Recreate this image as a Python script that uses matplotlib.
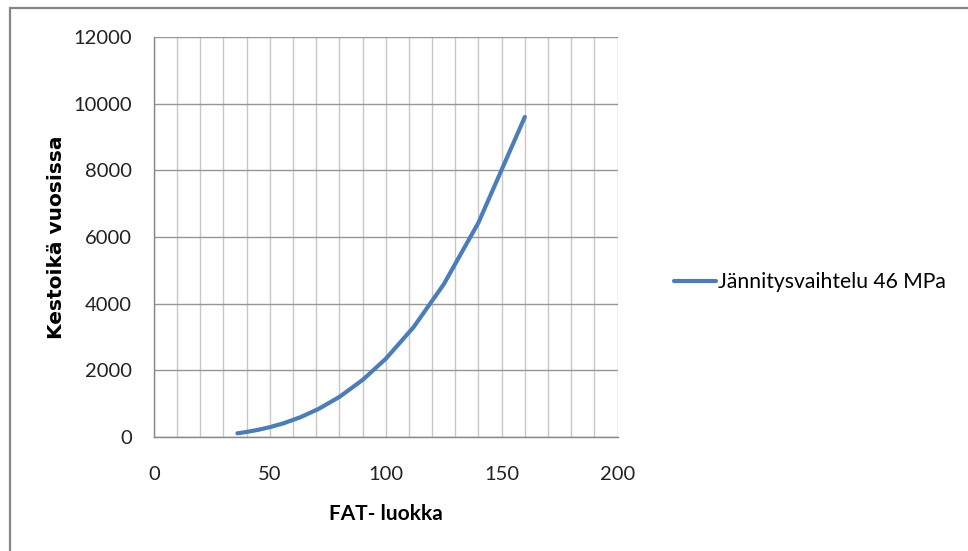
import matplotlib
matplotlib.use("Agg")
import matplotlib.pyplot as plt
from matplotlib.patches import Rectangle
from matplotlib.ticker import MultipleLocator

# FAT-luokka vs. kestoikä (vuosia), jännitysvaihtelu 46 MPa
fat_class = [36, 40, 45, 50, 56, 63, 71, 80, 90, 100, 112, 125, 140, 160]
life_years = [109, 150, 214, 293, 412, 586, 840, 1200, 1709, 2344, 3293, 4578, 6431, 9600]
series_label = "Jännitysvaihtelu 46 MPa"

fig = plt.figure(figsize=(9.68, 5.51), dpi=100)
ax = fig.add_axes([0.159, 0.207, 0.479, 0.726])

# chart frame
fig.patches.append(Rectangle((0.0103, -0.5), 1.5, 1.4855, transform=fig.transFigure,
                             fill=False, edgecolor="#878787", linewidth=1.6))

ax.plot(fat_class, life_years, color="#4A7EBB", linewidth=3.0,
        solid_capstyle="round", label=series_label)

ax.set_xlim(0, 200)
ax.set_ylim(0, 12000)
ax.xaxis.set_major_locator(MultipleLocator(50))
ax.xaxis.set_minor_locator(MultipleLocator(10))
ax.yaxis.set_major_locator(MultipleLocator(2000))

ax.grid(True, axis="x", which="both", color="#c8c8c8", linewidth=1.0)
ax.grid(True, axis="y", which="major", color="#969696", linewidth=1.0)
ax.set_axisbelow(True)
for s in ["top", "right"]:
    ax.spines[s].set_visible(False)
for s in ["left", "bottom"]:
    ax.spines[s].set_color("#878787")
    ax.spines[s].set_linewidth(1.0)

ax.tick_params(which="both", length=0, labelsize=14.5, colors="#222222")
ax.tick_params(axis="x", pad=21)
ax.tick_params(axis="y", pad=16)
for lbl in ax.get_xticklabels() + ax.get_yticklabels():
    lbl.set_family("Lato")

ax.set_xlabel("FAT- luokka", family="Lato", fontweight="bold", fontsize=15, labelpad=15)
ax.set_ylabel("Kestoikä vuosissa", family="DejaVu Sans", fontweight="bold", fontsize=14.5,
              labelpad=5)

ax.legend(loc="center left", bbox_to_anchor=(1.08, 0.3875), frameon=False,
          prop={"family": "Lato", "size": 15.2}, handlelength=2.0, handletextpad=0.1)

fig.savefig("out.png", dpi=100)
